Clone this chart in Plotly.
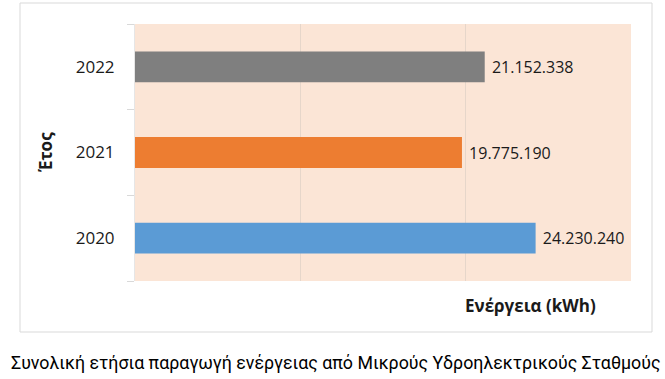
import plotly.graph_objects as go

years = ["2020", "2021", "2022"]
energy_kwh = [24230240, 19775190, 21152338]
bar_colors = ["#5b9bd5", "#ed7d31", "#7f7f7f"]
x_title = "Ενέργεια (kWh)"
y_title = "Έτος"
caption = "Συνολική ετήσια παραγωγή ενέργειας από Μικρούς Υδροηλεκτρικούς Σταθμούς"

fig = go.Figure(go.Bar(
    x=energy_kwh, y=years, orientation="h",
    marker=dict(color=bar_colors, line=dict(width=0)),
    texttemplate=" %{x:,.0f}", textposition="outside", cliponaxis=False,
    textfont=dict(family="Open Sans, sans-serif", size=16, color="#1a1a1a"),
    width=0.36,
))

fig.update_layout(
    width=665, height=379,
    margin=dict(l=135, r=34, t=24, b=98, autoexpand=False),
    paper_bgcolor="white", plot_bgcolor="#fbe5d6",
    separators=",.",
    showlegend=False,
    font=dict(family="Open Sans, sans-serif", color="#1a1a1a"),
    xaxis=dict(range=[0, 30000000], dtick=10000000, showticklabels=False,
               showgrid=True, gridcolor="#e6d6ca", gridwidth=1, zeroline=False,
               showline=False, fixedrange=True, automargin=False),
    yaxis=dict(type="category", categoryorder="array", categoryarray=years,
               tickson="boundaries", ticks="outside", ticklen=7, tickcolor="#d9d9d9",
               showline=True, linecolor="#e6e6e6", showgrid=False, automargin=False,
               tickfont=dict(size=17, color="#1a1a1a"), ticklabelstandoff=16),
    shapes=[dict(type="rect", xref="paper", yref="paper",
                 x0=(20 - 135) / 496, x1=(652 - 135) / 496,
                 y0=(379 - 98 - 332) / 257, y1=(379 - 98 - 3) / 257,
                 line=dict(color="#d9d9d9", width=1), layer="below")],
    annotations=[
        dict(text="<b>" + x_title + "</b>", xref="paper", yref="paper",
             x=(530 - 135) / 496, y=-(305 - 281) / 257, xanchor="center", yanchor="middle",
             showarrow=False, font=dict(size=17, color="#1a1a1a")),
        dict(text="<b>" + y_title + "</b>", xref="paper", yref="paper",
             x=-(135 - 45) / 496, y=(281 - 152) / 257, xanchor="center", yanchor="middle",
             textangle=-90, showarrow=False, font=dict(size=17, color="#1a1a1a")),
        dict(text=caption, xref="paper", yref="paper",
             x=(336 - 135) / 496, y=-(362 - 281) / 257, xanchor="center", yanchor="middle",
             showarrow=False,
             font=dict(family="Roboto, sans-serif", size=17.8, color="#000000")),
    ],
)

fig.write_html("out.html", config={"displayModeBar": False},
               post_script="document.body.style.margin='0';document.body.style.overflow='hidden';")
